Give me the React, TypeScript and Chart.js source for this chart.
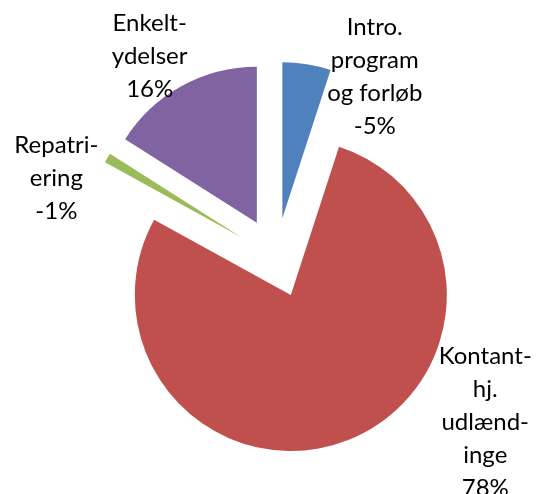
import React, { useEffect, useRef } from "react";
import { Chart, registerables } from "chart.js";

Chart.register(...registerables);

const categories = ["Intro. program og forløb", "Kontanthj. udlændinge", "Repatriering", "Enkeltydelser"];
const labelLines = [
  ["Intro.", "program", "og forløb"],
  ["Kontant-", "hj.", "udlænd-", "inge"],
  ["Repatri-", "ering"],
  ["Enkelt-", "ydelser"],
];
const percentValues = [-5, 78, -1, 16];
const colors = ["#4F81BD", "#C0504D", "#9BBB59", "#8064A2"];

// label block offset (px) from the outer midpoint of each slice
const labelOffsets = [
  [68, 13],
  [137, -18],
  [-51, 20],
  [-32, -30],
];

const EXPLODE = 40;
const RADIUS = 156;
const FONT = "24px Lato";
const LINE_H = 33;

export default function App() {
  const ref = useRef<HTMLCanvasElement>(null);
  useEffect(() => {
    const abs = percentValues.map((v) => Math.abs(v));

    // explode every slice by the same distance along its mid angle
    const explode = {
      id: "explode",
      afterDatasetUpdate(chart: any) {
        const meta = chart.getDatasetMeta(0);
        meta.data.forEach((arc: any) => {
          const mid = (arc.startAngle + arc.endAngle) / 2;
          arc.x += Math.cos(mid) * EXPLODE;
          arc.y += Math.sin(mid) * EXPLODE;
        });
      },
    };

    const labelPlugin = {
      id: "pieLabels",
      afterDraw(chart: any) {
        const ctx = chart.ctx;
        const meta = chart.getDatasetMeta(0);
        ctx.save();
        ctx.font = FONT;
        ctx.fillStyle = "#000";
        ctx.textAlign = "center";
        ctx.textBaseline = "middle";
        meta.data.forEach((arc: any, i: number) => {
          const mid = (arc.startAngle + arc.endAngle) / 2;
          const ax = arc.x + Math.cos(mid) * arc.outerRadius + labelOffsets[i][0];
          const ay = arc.y + Math.sin(mid) * arc.outerRadius + labelOffsets[i][1];
          const lines = [...labelLines[i], `${percentValues[i]}%`];
          const top = ay - ((lines.length - 1) * LINE_H) / 2;
          lines.forEach((t, k) => ctx.fillText(t, ax, top + k * LINE_H));
        });
        ctx.restore();
      },
    };

    const chart = new Chart(ref.current!, {
      type: "pie",
      data: {
        labels: categories,
        datasets: [
          {
            data: abs,
            backgroundColor: colors,
            borderWidth: 0,
            clip: false,
          } as any,
        ],
      },
      options: {
        animation: false,
        responsive: false,
        events: [],
        radius: RADIUS,
        layout: { padding: { left: 15.2, right: 0, top: 21.6, bottom: 0 } },
        plugins: { legend: { display: false }, tooltip: { enabled: false } },
      } as any,
      plugins: [explode, labelPlugin],
    });
    return () => chart.destroy();
  }, []);
  return (
    <div style={{ position: "absolute", left: 0, top: 0, width: 537, height: 494, background: "#fff" }}>
      <canvas ref={ref} width={537} height={494} style={{ width: 537, height: 494 }} />
    </div>
  );
}
